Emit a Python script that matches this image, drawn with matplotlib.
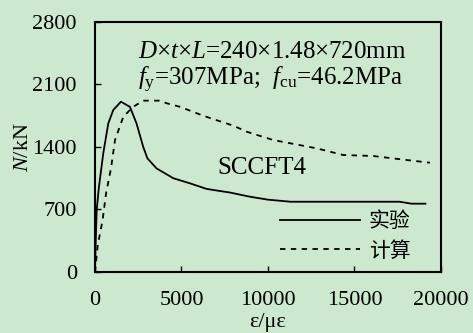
import matplotlib
matplotlib.use("Agg")
import matplotlib.pyplot as plt

# ------------------------------------------------------------
# Dados: curva carga-deformação do pilar SCCFT4
# ------------------------------------------------------------
exp_strain = [0, 30, 60, 100, 230, 480, 770, 1060, 1500, 2020, 2400, 2790, 3030,
              3560, 4530, 5490, 6460, 7800, 8960, 10000, 11300, 14000, 17600,
              18300, 19100]
exp_load = [0, 250, 450, 700, 955, 1330, 1665, 1815, 1907, 1850, 1665, 1400, 1273,
            1160, 1050, 993, 930, 890, 843, 810, 787, 787, 787,
            765, 765]

calc_strain = [0, 160, 440, 640, 925, 1160, 1640, 2210, 2790, 3760, 4140, 4910,
               6260, 7030, 7980, 8770, 10300, 12810, 14350, 16090, 18020, 19360]
calc_load = [0, 300, 580, 880, 1160, 1480, 1740, 1850, 1919, 1919, 1890, 1850,
             1750, 1700, 1640, 1571, 1478, 1385, 1310, 1299, 1254, 1224]

x_ticks = [0, 5000, 10000, 15000, 20000]
y_ticks = [0, 700, 1400, 2100, 2800]

legend_labels = ["实验", "计算"]
specimen = "SCCFT4"
info_1 = "$D$×$t$×$L$=240×1.48×720mm"
info_2 = r"$f_{\mathrm{y}}$=307MPa;  $f_{\mathrm{cu}}$=46.2MPa"

# ------------------------------------------------------------
# Estilo
# ------------------------------------------------------------
bg = "#CCE8CF"
plt.rcParams["font.family"] = ["Liberation Serif", "Noto Sans CJK SC"]
plt.rcParams["mathtext.fontset"] = "custom"
plt.rcParams["mathtext.rm"] = "Liberation Serif"
plt.rcParams["mathtext.it"] = "Liberation Serif:italic"

fig = plt.figure(figsize=(4.73, 3.33), dpi=100, facecolor=bg)
ax = fig.add_axes([0.2008, 0.1832, 0.7315, 0.7508], facecolor=bg)

ax.plot(exp_strain, exp_load, color="black", lw=1.3, label=legend_labels[0])
ax.plot(calc_strain, calc_load, color="black", lw=1.3, linestyle=(0, (3, 3)),
        label=legend_labels[1])

ax.set_xlim(0, 20000)
ax.set_ylim(0, 2800)
ax.set_xticks(x_ticks)
ax.set_yticks(y_ticks)
ax.tick_params(axis="both", direction="in", length=4, width=1, labelsize=16)
ax.tick_params(axis="y", pad=13)
ax.tick_params(axis="x", pad=14)
for s in ax.spines.values():
    s.set_linewidth(1.5)

ax.set_xlabel("ε/με", fontsize=16)
ax.set_ylabel("$N$/kN", fontsize=16)
ax.xaxis.set_label_coords(0.5, -0.165)
ax.yaxis.set_label_coords(-0.18, 0.5)

ax.text(0.124, 0.88, info_1, transform=ax.transAxes, fontsize=18, va="center", ha="left")
ax.text(0.124, 0.768, info_2, transform=ax.transAxes, fontsize=18, va="center", ha="left")
ax.text(0.355, 0.416, specimen, transform=ax.transAxes, fontsize=18, va="center", ha="left")

leg = ax.legend(loc="center left", bbox_to_anchor=(0.535, 0.144), frameon=False,
                prop={"family": "Noto Sans CJK SC", "size": 15},
                handlelength=3.85, handletextpad=0.4, labelspacing=0.35,
                borderpad=0, borderaxespad=0)

fig.savefig("out.png", dpi=100, facecolor=bg)
